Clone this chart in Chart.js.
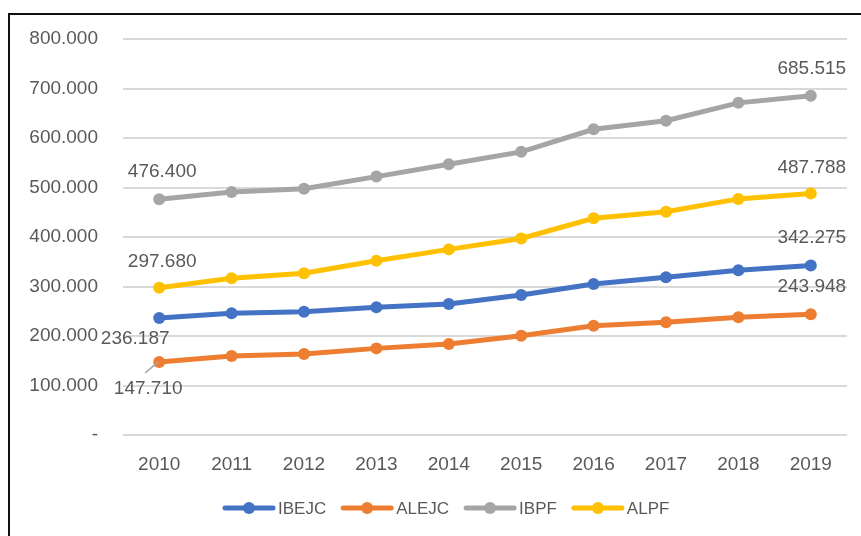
<!DOCTYPE html>
<html>
<head>
<meta charset="utf-8">
<script src="https://cdn.jsdelivr.net/npm/chart.js@4.4.1/dist/chart.umd.min.js"></script>
<style>
  html, body { margin:0; padding:0; background:#fff; overflow:hidden; }
  #wrap { position:absolute; left:0; top:0; width:861px; height:536px; }
  #frame { position:absolute; left:8px; top:13px; width:900px; height:600px;
           border-left:2px solid #111; border-top:2px solid #111; pointer-events:none; }
</style>
</head>
<body>
<div id="wrap"><canvas id="chart" width="861" height="536"></canvas></div>
<div id="frame"></div>
<script>
// data
const years = ['2010','2011','2012','2013','2014','2015','2016','2017','2018','2019'];
const ibejc = [236187, 245800, 249000, 258000, 264600, 282800, 305000, 318600, 333000, 342275];
const alejc = [147710, 159600, 163600, 175000, 183800, 200600, 220800, 227600, 237800, 243948];
const ibpf  = [476400, 491000, 497600, 522000, 547000, 572000, 617600, 635000, 671000, 685515];
const alpf  = [297680, 316500, 326600, 352000, 375000, 397000, 437800, 451000, 477000, 487788];
const seriesNames = ['IBEJC','ALEJC','IBPF','ALPF'];
const yTicks = [0, 100000, 200000, 300000, 400000, 500000, 600000, 700000, 800000];

const colors = ['#4472C4','#ED7D31','#A5A5A5','#FFC000'];
const textColor = '#595959';
const fontFamily = '"Liberation Sans", Arial, sans-serif';
const fontSize = 19;

// label offsets (px) for first / last point of each series
const labelOffsets = [
  [{dx:-24, dy:21}, {dx:1, dy:-28}],
  [{dx:-11, dy:27, leader:true}, {dx:1, dy:-27}],
  [{dx:3, dy:-27}, {dx:1, dy:-27}],
  [{dx:3, dy:-26}, {dx:1, dy:-26}]
];

function fmt(v) {
  if (v === 0) return '-';
  return Math.floor(v / 1000) + '.' + String(v % 1000).padStart(3, '0');
}

const endLabels = {
  id: 'endLabels',
  afterDatasetsDraw(chart) {
    const ctx = chart.ctx;
    ctx.save();
    ctx.font = fontSize + 'px ' + fontFamily;
    ctx.fillStyle = textColor;
    ctx.textAlign = 'center';
    ctx.textBaseline = 'middle';
    chart.data.datasets.forEach((ds, i) => {
      const meta = chart.getDatasetMeta(i);
      const last = ds.data.length - 1;
      [0, last].forEach((idx, k) => {
        const pt = meta.data[idx];
        const off = labelOffsets[i][k];
        const x = pt.x + off.dx, y = pt.y + off.dy;
        ctx.fillText(fmt(ds.data[idx]), x, y);
        if (off.leader) {
          ctx.strokeStyle = '#A5A5A5';
          ctx.lineWidth = 1.5;
          ctx.beginPath();
          ctx.moveTo(x - 3, y - 16);
          ctx.lineTo(pt.x - 1, pt.y);
          ctx.stroke();
        }
      });
    });
    ctx.restore();
  }
};

const lineLegend = {
  id: 'lineLegend',
  afterDraw(chart) {
    const ctx = chart.ctx;
    ctx.save();
    ctx.font = '17px ' + fontFamily;
    ctx.textBaseline = 'middle';
    ctx.textAlign = 'left';
    const y = 508, seg = 48, gap = 5, between = 17;
    let x = 225;
    chart.data.datasets.forEach((ds) => {
      ctx.strokeStyle = ds.borderColor;
      ctx.lineWidth = 5;
      ctx.lineCap = 'round';
      ctx.beginPath();
      ctx.moveTo(x, y); ctx.lineTo(x + seg, y);
      ctx.stroke();
      ctx.fillStyle = ds.borderColor;
      ctx.beginPath();
      ctx.arc(x + seg / 2, y, 6, 0, Math.PI * 2);
      ctx.fill();
      ctx.fillStyle = textColor;
      ctx.fillText(ds.label, x + seg + gap, y + 1);
      x += seg + gap + ctx.measureText(ds.label).width + between;
    });
    ctx.restore();
  }
};

const seriesData = [ibejc, alejc, ibpf, alpf];

new Chart(document.getElementById('chart'), {
  type: 'line',
  data: {
    labels: years,
    datasets: seriesData.map((d, i) => ({
      label: seriesNames[i],
      data: d,
      borderColor: colors[i],
      backgroundColor: colors[i],
      borderWidth: 5,
      pointRadius: 6,
      pointHoverRadius: 6,
      pointBorderWidth: 0,
      tension: 0
    }))
  },
  options: {
    responsive: false,
    animation: false,
    events: [],
    layout: { padding: { top: 39, right: 14, left: 0, bottom: 0 } },
    plugins: { legend: { display: false }, tooltip: { enabled: false } },
    scales: {
      x: {
        offset: true,
        grid: { display: false },
        border: { display: false },
        ticks: { color: textColor, font: { family: fontFamily, size: fontSize }, padding: 10, maxRotation: 0 },
        afterFit(scale) { scale.height = 101; }
      },
      y: {
        min: 0,
        max: 800000,
        afterBuildTicks(scale) { scale.ticks = yTicks.map(v => ({ value: v })); },
        grid: { color: '#D9D9D9', lineWidth: 2, drawTicks: false },
        border: { display: false },
        ticks: {
          color: textColor,
          font: { family: fontFamily, size: fontSize },
          padding: 25,
          callback: v => fmt(v)
        },
        afterFit(scale) { scale.width = 123; }
      }
    }
  },
  plugins: [endLabels, lineLegend]
});
</script>
</body>
</html>
